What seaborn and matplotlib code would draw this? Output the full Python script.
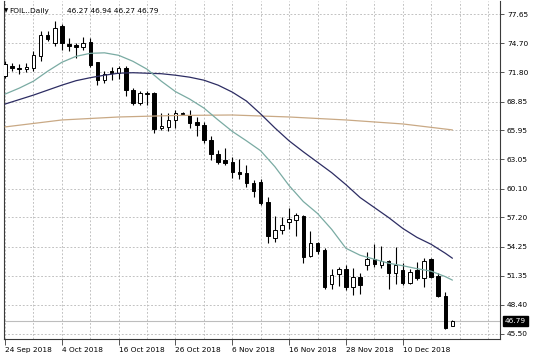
import matplotlib
matplotlib.use("Agg")
import matplotlib.pyplot as plt
import matplotlib.transforms as mtrans
import seaborn as sns

# ---- data ----
opens = [71.4, 72.4, 72.2, 72.1, 72.2, 73.4, 75.5, 74.7, 76.4, 74.6,
         74.5, 74.3, 74.8, 72.8, 71.0, 71.9, 71.7, 72.2, 70.0, 68.7,
         69.65, 69.7, 66.15, 66.3, 67.0, 67.7, 67.5, 66.8, 66.5, 65.0,
         63.6, 63.0, 62.75, 61.8, 61.65, 60.7, 60.8, 58.8, 55.1, 55.9,
         56.75, 56.95, 57.35, 53.3, 54.6, 53.9, 50.5, 51.5, 52.0, 50.2,
         51.25, 52.43, 53.0, 52.43, 52.83, 51.6, 51.9, 50.65, 51.9, 51.1,
         53.0, 51.3, 49.3, 46.27]
highs = [72.9, 72.7, 72.6, 72.7, 73.9, 75.9, 75.9, 76.95, 76.6, 75.2,
         74.7, 75.3, 75.2, 72.8, 71.9, 72.3, 72.4, 72.4, 70.2, 69.9,
         69.9, 69.8, 67.7, 67.7, 68.0, 67.85, 68.0, 67.3, 66.8, 65.4,
         64.0, 64.15, 63.3, 63.1, 62.5, 60.95, 61.1, 59.3, 57.3, 57.2,
         58.1, 57.65, 57.45, 55.8, 54.75, 54.1, 52.0, 52.2, 52.4, 52.1,
         51.65, 53.76, 54.53, 54.33, 52.93, 54.27, 52.65, 51.99, 52.76, 53.1,
         53.1, 51.59, 49.74, 46.94]
lows = [71.2, 71.9, 71.6, 71.8, 71.9, 72.9, 74.9, 74.4, 74.0, 73.9,
        73.2, 74.0, 72.3, 70.5, 70.7, 71.0, 71.1, 69.4, 68.5, 68.5,
        68.5, 65.7, 66.0, 65.9, 66.2, 67.5, 66.2, 65.4, 64.7, 63.0,
        62.6, 62.5, 61.2, 61.1, 60.3, 59.3, 58.45, 54.6, 54.7, 55.5,
        56.0, 55.3, 52.65, 53.25, 53.5, 50.0, 50.0, 50.3, 49.9, 49.4,
        49.5, 51.92, 52.25, 52.1, 49.98, 50.5, 50.4, 50.5, 50.92, 50.24,
        51.09, 49.24, 45.96, 46.27]
closes = [72.6, 72.2, 72.1, 72.35, 73.5, 75.5, 75.1, 76.2, 74.7, 74.4,
          74.3, 74.7, 72.5, 71.0, 71.6, 71.7, 72.2, 70.0, 68.7, 69.7,
          69.75, 66.1, 66.4, 67.0, 67.7, 67.65, 66.7, 66.5, 64.95, 63.6,
          62.8, 62.7, 61.75, 61.55, 60.7, 59.9, 58.7, 55.3, 55.9, 56.4,
          57.0, 57.45, 53.2, 54.65, 53.8, 50.25, 51.4, 52.0, 50.2, 51.2,
          50.4, 53.0, 52.5, 52.83, 51.65, 52.4, 50.65, 51.75, 51.1, 52.86,
          51.25, 49.3, 46.06, 46.79]

ma_idx = [0, 2, 4, 6, 8, 10, 12, 14, 16, 18, 20, 22, 24, 26, 28, 30, 32,
          34, 36, 38, 40, 42, 44, 46, 48, 50, 52, 54, 56, 58, 60, 62, 63]
ma_fast = [69.6, 70.2, 70.9, 71.9, 72.8, 73.4, 73.7, 73.75, 73.5, 72.9,
           72.1, 70.9, 69.85, 69.1, 68.2, 67.0, 65.85, 64.9, 63.9, 62.3,
           60.4, 58.8, 57.6, 56.0, 54.1, 53.4, 53.0, 52.6, 52.35, 52.05,
           51.8, 51.25, 50.9]
ma_mid = [68.6, 69.05, 69.5, 70.0, 70.5, 70.95, 71.25, 71.5, 71.7, 71.75,
          71.7, 71.65, 71.5, 71.3, 71.0, 70.5, 69.8, 68.9, 67.6, 66.2,
          64.9, 63.8, 62.75, 61.7, 60.5, 59.2, 58.2, 57.2, 56.1, 55.2,
          54.5, 53.6, 53.1]
ma_slow_idx = [0, 8, 16, 24, 32, 40, 48, 56, 63]
ma_slow = [66.3, 67.0, 67.3, 67.45, 67.5, 67.3, 67.0, 66.6, 66.0]

date_labels = ["24 Sep 2018", "4 Oct 2018", "16 Oct 2018", "26 Oct 2018",
               "6 Nov 2018", "16 Nov 2018", "28 Nov 2018", "10 Dec 2018"]
price_ticks = [77.65, 74.70, 71.80, 68.85, 65.95, 63.05, 60.10, 57.20,
               54.25, 51.35, 48.40, 45.50]
price_labels = ["77.65", "74.70", "71.80", "68.85", "65.95", "63.05",
                "60.10", "57.20", "54.25", "51.35", "48.40", "45.50"]
symbol_text = "FOIL..Daily"
ohlc_text = "46.27 46.94 46.27 46.79"
last_price = 46.79
last_label = "46.79"

# ---- style ----
sns.set_theme(style="white")
plt.rcParams['font.family'] = ['DejaVu Sans']

W, H = 536, 358
fig = plt.figure(figsize=(W / 100, H / 100), dpi=100)
fig.patch.set_facecolor("white")
ax = fig.add_axes([4 / W, 19 / H, 496 / W, 338 / H])
ax.set_facecolor("white")

n = len(opens)

# grid
grid_kw = dict(color="#b8b8b8", linewidth=0.6, linestyle=(0, (2.2, 2.2)))
major_x = list(range(0, 8 * len(date_labels), 8))
minor_x = [i for i in range(0, 70, 4) if i not in major_x]
ax.set_xticks(major_x)
ax.set_xticklabels(date_labels)
ax.set_xticks(minor_x, minor=True)
ax.set_yticks(price_ticks)
ax.set_yticklabels(price_labels)
ax.grid(True, which="both", axis="x", **grid_kw)
ax.grid(True, which="major", axis="y", **grid_kw)
ax.set_axisbelow(True)

# bid line
ax.axhline(last_price, color="#bdbdbd", linewidth=0.8, zorder=1.5)

# candles
for i, (o, h, l, c) in enumerate(zip(opens, highs, lows, closes)):
    ax.vlines(i, l, h, color="black", linewidth=0.8, zorder=2)
    bull = c >= o
    bottom = min(o, c)
    height = max(abs(c - o), 0.06)
    ax.bar(i, height, bottom=bottom, width=0.5,
           color="white" if bull else "black",
           edgecolor="black", linewidth=0.7, zorder=3)

# moving averages
sns.lineplot(x=ma_slow_idx, y=ma_slow, ax=ax, color="#c9a985",
             linewidth=0.9, estimator=None, sort=False, zorder=4)
sns.lineplot(x=ma_idx, y=ma_mid, ax=ax, color="#2d2d63",
             linewidth=0.9, estimator=None, sort=False, zorder=4)
sns.lineplot(x=ma_idx, y=ma_fast, ax=ax, color="#7aaba3",
             linewidth=0.9, estimator=None, sort=False, zorder=4)

ax.set_xlim(-0.15, 69.7)
ax.set_ylim(44.98, 78.96)
ax.set_xlabel("")
ax.set_ylabel("")

# axes / ticks
for side in ["left", "right", "bottom"]:
    ax.spines[side].set_visible(True)
    ax.spines[side].set_color("#3a3a3a")
    ax.spines[side].set_linewidth(0.8)
ax.spines["top"].set_visible(False)

ax.yaxis.tick_right()
ax.tick_params(axis="y", which="major", right=True, left=False,
               labelright=True, labelleft=False, direction="out",
               length=3, width=0.6, pad=2, labelsize=5.3,
               colors="#3a3a3a", labelcolor="black")
ax.tick_params(axis="x", which="major", bottom=True, direction="out",
               length=4, width=0.6, pad=1.5, labelsize=5.3,
               colors="#3a3a3a", labelcolor="black")
ax.tick_params(axis="x", which="minor", bottom=False, length=0)
for lbl in ax.get_xticklabels():
    lbl.set_horizontalalignment("left")

# last price box
trans = mtrans.blended_transform_factory(ax.transAxes, ax.transData)
ax.text(1.0 + 5 / 496, last_price, last_label, transform=trans,
        ha="left", va="center", fontsize=5.3, color="white",
        bbox=dict(boxstyle="square,pad=0.25", fc="black", ec="black"),
        zorder=10, clip_on=False)

# title
fig.text(3.5 / W, 1 - 11 / H, "\u25BC", fontsize=4.0, color="black",
         ha="left", va="center")
fig.text(9 / W, 1 - 11 / H, symbol_text, fontsize=5.3, color="black",
         ha="left", va="center")
fig.text(67 / W, 1 - 11 / H, ohlc_text, fontsize=5.3, color="black",
         ha="left", va="center")

fig.savefig("out.png", dpi=100, facecolor="white")
